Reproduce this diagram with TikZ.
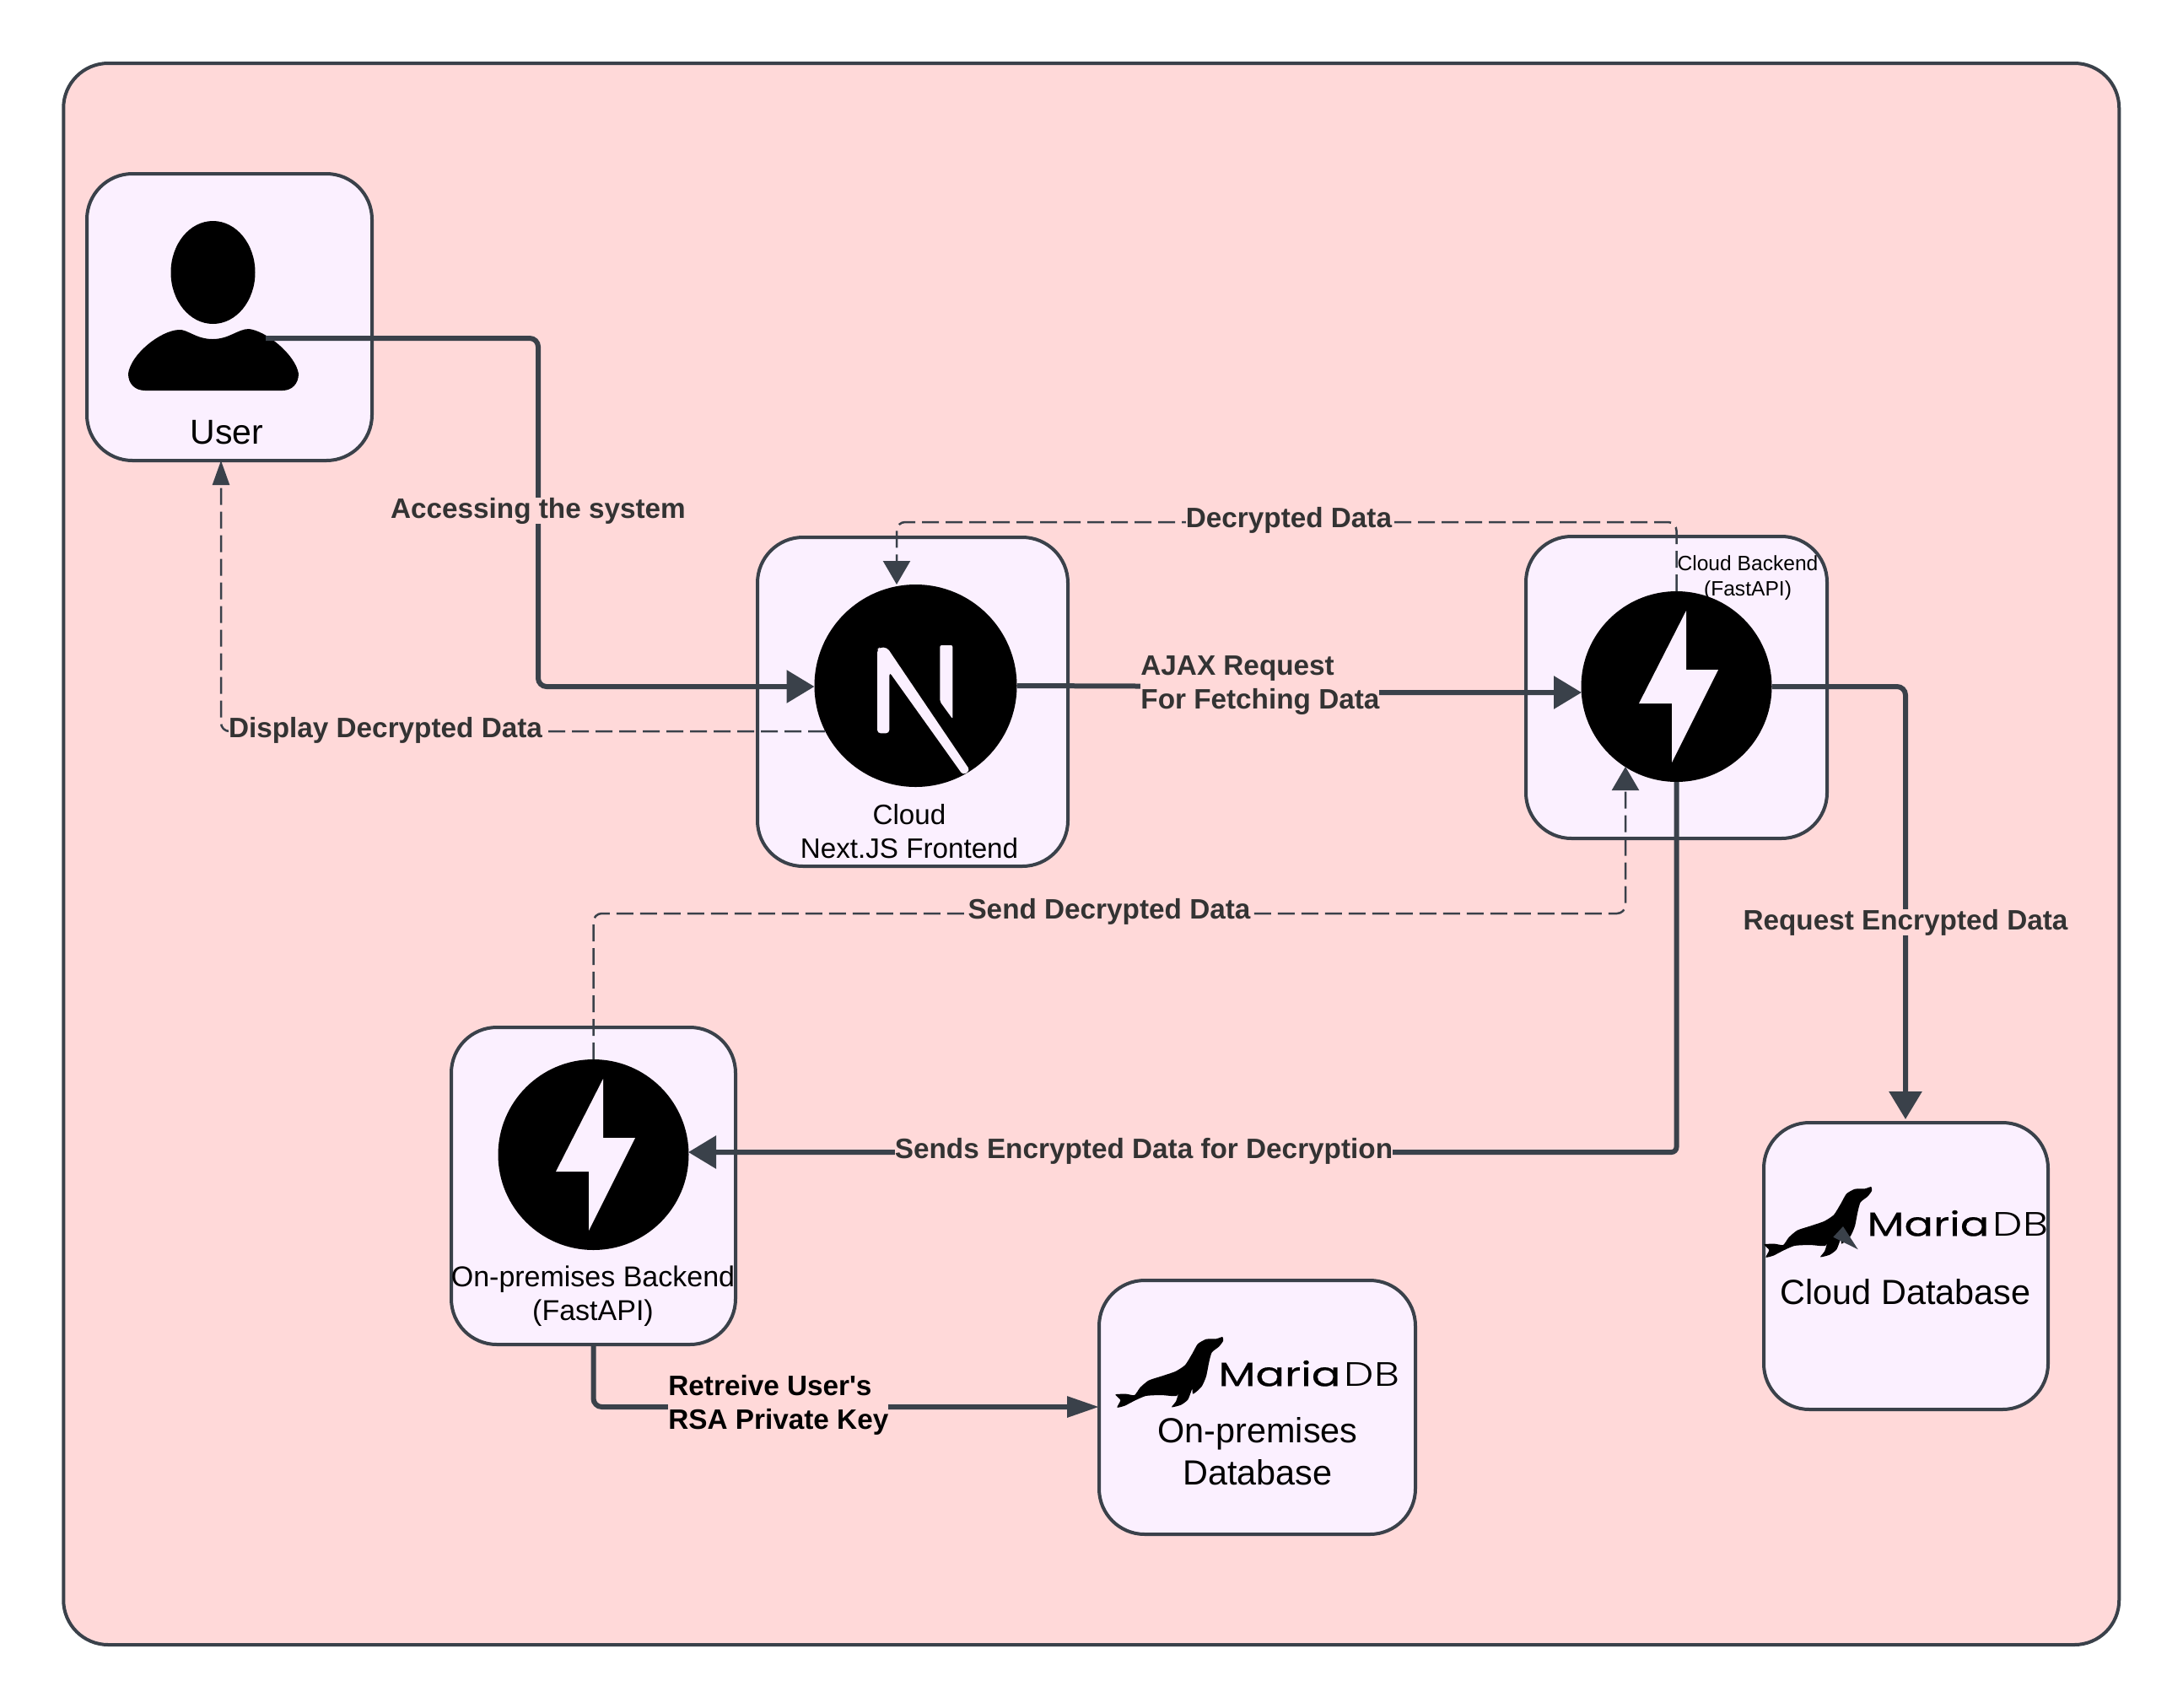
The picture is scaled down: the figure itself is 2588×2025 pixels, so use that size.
\documentclass[tikz,border=0pt]{standalone}
\usepackage{fontspec}
\setmainfont{Liberation Sans}
\newfontfamily\rawsans{Liberation Sans}
\newfontfamily\mariaf{Poppins}[FakeBold=0.35,FakeStretch=1.28]
\newfontfamily\dbf{Poppins Light}[FakeStretch=1.25]
\usetikzlibrary{arrows.meta}
\definecolor{bgpink}{HTML}{FFD9D9}
\definecolor{boxlilac}{HTML}{FBF0FF}
\definecolor{edgegrey}{HTML}{3A414A}
\definecolor{labelink}{HTML}{333333}
\tikzset{
  panel/.style={draw=edgegrey,line width=2pt,fill=boxlilac,rounded corners=27pt,inner sep=0pt,outer sep=0pt},
  disc/.style={circle,fill=black,inner sep=0pt,outer sep=0pt},
  strongline/.style={draw=edgegrey,line width=3pt,rounded corners=5pt},
  weakline/.style={draw=edgegrey,line width=1.25pt,rounded corners=5pt,dash pattern=on 10pt off 4pt},
  bigtip/.style={-{Triangle[length=16.5pt,width=19pt,fill=edgegrey]}},
  midtip/.style={-{Triangle[length=14pt,width=16pt,fill=edgegrey]}},
  lbl/.style={font=\bfseries\fontsize{16.65}{20}\selectfont,text=labelink,fill=bgpink,inner sep=0pt,align=center},
  lbll/.style={font=\bfseries\fontsize{16.65}{20}\selectfont,text=labelink,fill=bgpink,inner sep=0pt,align=left},
  captext/.style={text=black,inner sep=0pt,align=center},
}
\newcommand{\fastbolt}[1]{\fill[boxlilac,shift={(#1.center)}] (11.5,-90) -- (11.5,-20) -- (49.5,-20) -- (-5.5,90) -- (-5.5,20) -- (-44.5,20) -- cycle;}
\newcommand{\mdblogo}[3]{\begin{scope}[shift={(#1,#2)},x=0.16667pt,y=-0.16667pt]
\fill[black] plot[smooth cycle,tension=.35] coordinates {(97,460) (135,458) (165,462) (185,435) (215,410) (260,395) (310,378) (345,355) (370,315) (390,280) (420,263) (455,262) (478,255) (480,270) (465,290) (440,310) (430,345) (420,395) (405,430) (385,450) (372,458) (370,440) (355,478) (330,497) (297,505) (312,485) (320,460) (325,435) (315,465) (260,462) (205,465) (165,482) (130,500) (103,506) (115,480)};
\node[anchor=base west,inner sep=0pt,font=\mariaf\fontsize{20}{20}\selectfont] (#3m) at (462,430) {Maria};
\node[anchor=base west,inner sep=0pt,font=\dbf\fontsize{20}{20}\selectfont] (#3d) at (910,430) {DB};
\end{scope}}
\begin{document}
\begin{tikzpicture}[x=0.5pt,y=-0.5pt]
\useasboundingbox (0,0) rectangle (2588,2025);
% outer panel
\node[draw=edgegrey,line width=2pt,fill=bgpink,rounded corners=26.5pt,inner sep=0pt,outer sep=0pt,minimum width=1218.5pt,minimum height=937.5pt] (outer) at (1293.75,1012.5) {};
% panels
\node[panel,minimum width=169pt,minimum height=170pt] (userbox) at (272,376) {};
\node[panel,minimum width=184pt,minimum height=195pt] (nextbox) at (1082,832) {};
\node[panel,minimum width=178.5pt,minimum height=179pt] (backbox) at (1987.5,815) {};
\node[panel,minimum width=168.5pt,minimum height=188pt] (onpbox) at (703.5,1406) {};
\node[panel,minimum width=187.5pt,minimum height=150.5pt] (onpdb) at (1490.5,1668.5) {};
\node[panel,minimum width=168.5pt,minimum height=170pt] (clouddb) at (2259.5,1501) {};
% user icon
\fill[black] (252.5,323) ellipse [x radius=25pt,y radius=30.5pt];
\fill[black] (172,463) .. controls (160,463) and (152,455) .. (152,443) .. controls (155,420) and (190,392) .. (212,391) .. controls (222,390) and (232,402) .. (252,402) .. controls (272,402) and (282,390) .. (295,390) .. controls (315,392) and (350,420) .. (354,443) .. controls (354,455) and (346,463) .. (335,463) -- cycle;
% discs
\node[disc,minimum size=120pt] (nextc) at (1085.5,813) {};
\node[disc,minimum size=113pt] (backc) at (1987.5,814) {};
\node[disc,minimum size=113pt] (onpc) at (703.5,1369) {};
% N glyph
\begin{scope}[shift={(880,620)},x=0.16667pt,y=-0.16667pt]
\fill[boxlilac,rounded corners=2pt] (480,450) -- (488,443) -- (515,443) -- (810,880) -- (785,897) -- (523,530) -- (523,748) -- (480,748) -- cycle;
\fill[boxlilac,rounded corners=1pt] (703,435) -- (748,435) -- (748,697) -- (703,635) -- cycle;
\end{scope}
\fastbolt{backc}
\fastbolt{onpc}
% logos
\mdblogo{2059}{1322}{logoa}
\mdblogo{1290}{1500}{logob}
\fill[edgegrey] (2185,1454) -- (2202.7,1481.3) -- (2173.3,1466.7) -- cycle;
% anchors for free ends
\coordinate (userOut) at (315,401);
\coordinate (userTurn) at (638,401);
\coordinate (nextIn) at (965.5,814);
\coordinate (nextOutA) at (1494,814);
\coordinate (nextOutB) at (1494,821);
\coordinate (backIn) at (1875,821);
\coordinate (backOutT) at (2259,814);
\coordinate (dbTip) at (2259,1327);
\coordinate (nextDash) at (978,867);
\coordinate (userDashC) at (262,867);
\coordinate (userTip) at (262,546);
\coordinate (decTop) at (1987.5,619);
\coordinate (decLeft) at (1063,619);
\coordinate (decTip) at (1063,693);
\coordinate (sendTipC) at (1927,1083);
\coordinate (sendTip) at (1927,909);
\coordinate (sendC) at (703.5,1083);
\coordinate (sendsC) at (1987.5,1366);
\coordinate (onpIn) at (816,1366);
\coordinate (retC) at (703.5,1668);
% connectors
\draw[strongline,bigtip] (userOut) -- (userTurn) -- (userTurn |- nextIn) -- (nextIn);
\draw[strongline,bigtip] (nextc.east) -- (nextOutA) -- (nextOutB) -- (backIn);
\draw[strongline,bigtip] (backc.east) -- (backOutT) -- (dbTip);
\draw[strongline,bigtip,rounded corners=3pt] (backc.south) -- (sendsC) -- (onpIn);
\draw[strongline,-{Triangle[length=19pt,width=12pt,fill=edgegrey]}] (onpbox.south) -- (retC) -- (onpdb.west |- retC);
\draw[weakline,-{Triangle[length=14.5pt,width=10pt,fill=edgegrey]}] (nextDash) -- (userDashC) -- (userTip);
\draw[weakline,midtip] (backc.north) -- (decTop) -- (decLeft) -- (decTip);
\draw[weakline,midtip] (onpc.north) -- (sendC) -- (sendTipC) -- (sendTip);
% captions
\node[captext,anchor=base,font=\fontsize{20.5}{24}\selectfont] (tuser) at (269,526) {User};
\node[captext,anchor=base,font=\fontsize{16.6}{20}\selectfont] (tnext) at (1078,1017) {Cloud\\Next.JS Frontend};
\node[captext,anchor=base,font=\fontsize{12.3}{15}\selectfont] (tback) at (2072,706) {Cloud Backend\\(FastAPI)};
\node[captext,anchor=base,font=\fontsize{17}{20}\selectfont] (tonp) at (703,1565) {On-premises Backend\\(FastAPI)};
\node[captext,anchor=base,font=\fontsize{20.7}{25}\selectfont] (tcdb) at (2259,1546) {Cloud Database};
\node[captext,anchor=base,font=\fontsize{20.7}{25}\selectfont] (topdb) at (1491,1760) {On-premises\\Database};
% connector labels
\node[lbl,anchor=base] (l1) at (638,614) {Accessing the system};
\node[lbl,anchor=base] (l2) at (457,874) {Display Decrypted Data};
\node[lbl,anchor=base] (l3) at (1528,625) {Decrypted Data};
\node[lbl,anchor=base] (l4) at (1315,1089) {Send Decrypted Data};
\node[lbl,anchor=base] (l5) at (2259,1102) {Request Encrypted Data};
\node[lbl,anchor=base] (l6) at (1356,1373) {Sends Encrypted Data for Decryption};
\node[lbll,anchor=base west] (l7) at (1352,840) {AJAX Request\\For Fetching Data};
\node[lbll,anchor=base west,text=black,font=\rawsans\bfseries\fontsize{16.65}{20}\selectfont] (l8) at (792,1694) {Retreive User's\\RSA Private Key};
\end{tikzpicture}
\end{document}
